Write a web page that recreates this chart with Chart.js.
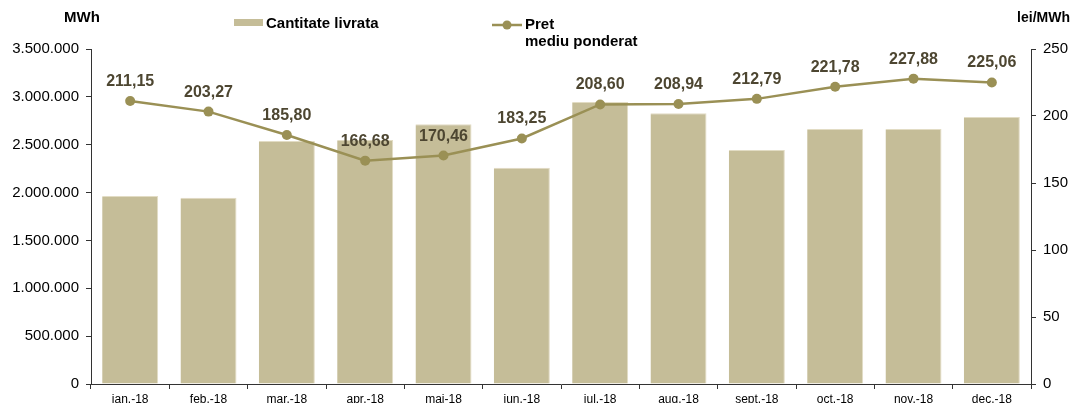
<!DOCTYPE html>
<html><head><meta charset="utf-8">
<script src="https://cdn.jsdelivr.net/npm/chart.js@4.4.0/dist/chart.umd.min.js"></script>
<style>html,body{margin:0;padding:0;background:#fff;overflow:hidden}
#wrap{position:relative;width:1072px;height:403px}</style>
</head><body><div id="wrap"><canvas id="c" width="1072" height="403"></canvas></div>
<script>
const categories = ['ian.-18','feb.-18','mar.-18','apr.-18','mai-18','iun.-18','iul.-18','aug.-18','sept.-18','oct.-18','nov.-18','dec.-18'];
const quantity = [1965000, 1945000, 2540000, 2550000, 2715000, 2260000, 2945000, 2830000, 2445000, 2665000, 2665000, 2790000];
const price = [211.15, 203.27, 185.80, 166.68, 170.46, 183.25, 208.60, 208.94, 212.79, 221.78, 227.88, 225.06];
const leftTicks = [0, 500000, 1000000, 1500000, 2000000, 2500000, 3000000, 3500000];
const rightTicks = [0, 50, 100, 150, 200, 250];
const seriesNames = ['Cantitate livrata', 'Pret\nmediu ponderat'];
const axisTitles = ['MWh', 'lei/MWh'];

const FONT = '"Liberation Sans", Arial, Helvetica, sans-serif';
const BAR = '#c5bd98';
const LINE = '#9a9055';
const LABEL = '#4d4631';
const AXIS = '#333333';

function fmtThousands(v){ return String(Math.round(v)).replace(/\B(?=(\d{3})+(?!\d))/g, '.'); }
function fmtDec(v){ return v.toFixed(2).replace('.', ','); }

const decor = {
  id: 'decor',
  afterDatasetsDraw(chart){
    const ctx = chart.ctx;
    const meta = chart.getDatasetMeta(1);
    ctx.save();
    ctx.font = 'bold 16px ' + FONT;
    ctx.fillStyle = LABEL;
    ctx.textAlign = 'center';
    ctx.textBaseline = 'alphabetic';
    meta.data.forEach((p, i) => {
      ctx.fillText(fmtDec(price[i]), p.x, p.y - 15);
    });
    ctx.restore();
  },
  afterDraw(chart){
    const ctx = chart.ctx;
    ctx.save();
    ctx.font = 'bold 15px ' + FONT;
    ctx.fillStyle = '#000';
    ctx.textBaseline = 'middle';
    ctx.textAlign = 'center';
    ctx.fillText(axisTitles[0], 82, 18);
    ctx.font = 'bold 14px ' + FONT;
    ctx.textAlign = 'right';
    ctx.fillText(axisTitles[1], 1070, 18);
    ctx.font = 'bold 15px ' + FONT;
    // legend bar
    ctx.fillStyle = BAR;
    ctx.fillRect(234, 19, 29, 7);
    ctx.fillStyle = '#000';
    ctx.textAlign = 'left';
    ctx.fillText(seriesNames[0], 266, 24);
    // legend line
    ctx.strokeStyle = LINE;
    ctx.lineWidth = 2.5;
    ctx.beginPath(); ctx.moveTo(492, 25); ctx.lineTo(522, 25); ctx.stroke();
    ctx.fillStyle = LINE;
    ctx.beginPath(); ctx.arc(507, 25, 4.5, 0, Math.PI*2); ctx.fill();
    ctx.fillStyle = '#000';
    const parts = seriesNames[1].split('\n');
    ctx.fillText(parts[0], 525, 25);
    ctx.fillText(parts[1], 525, 42);
    ctx.restore();
  }
};

new Chart(document.getElementById('c'), {
  data: {
    labels: categories,
    datasets: [
      { type: 'bar', label: seriesNames[0], data: quantity, yAxisID: 'y', backgroundColor: BAR,
        borderColor: '#e2dcc4', borderWidth: {left:0, right:1, top:1, bottom:0}, borderSkipped: 'bottom',
        barPercentage: 0.715, categoryPercentage: 1.0, order: 2 },
      { type: 'line', label: seriesNames[1], data: price, yAxisID: 'y1', borderColor: LINE, backgroundColor: LINE,
        borderWidth: 2.5, pointRadius: 5, pointHoverRadius: 5, pointBackgroundColor: LINE, pointBorderWidth: 0,
        tension: 0, order: 1 }
    ]
  },
  options: {
    responsive: false,
    animation: false,
    events: [],
    layout: { padding: { top: 49, left: 0, right: 0, bottom: 0 } },
    plugins: { legend: { display: false }, tooltip: { enabled: false } },
    scales: {
      x: {
        grid: { display: true, offset: true, drawOnChartArea: false, drawTicks: true, tickLength: 5, color: AXIS },
        border: { display: true, color: AXIS, width: 1 },
        ticks: { color: '#000', font: { family: FONT, size: 12 }, padding: 3, maxRotation: 0, autoSkip: false },
        afterFit(s){ s.height = 19; }
      },
      y: {
        position: 'left', min: 0, max: 3500000,
        afterBuildTicks(s){ s.ticks = leftTicks.map(v => ({ value: v })); },
        grid: { display: true, drawOnChartArea: false, drawTicks: true, tickLength: 5, color: AXIS },
        border: { display: true, color: AXIS, width: 1 },
        ticks: { color: '#000', font: { family: FONT, size: 15 }, padding: 7, callback: v => fmtThousands(v) },
        afterFit(s){ s.width = 91; }
      },
      y1: {
        position: 'right', min: 0, max: 250,
        afterBuildTicks(s){ s.ticks = rightTicks.map(v => ({ value: v })); },
        grid: { display: true, drawOnChartArea: false, drawTicks: true, tickLength: 5, color: AXIS },
        border: { display: true, color: AXIS, width: 1 },
        ticks: { color: '#000', font: { family: FONT, size: 15 }, padding: 7, callback: v => String(v) },
        afterFit(s){ s.width = 41; }
      }
    }
  },
  plugins: [decor]
});
</script></body></html>
